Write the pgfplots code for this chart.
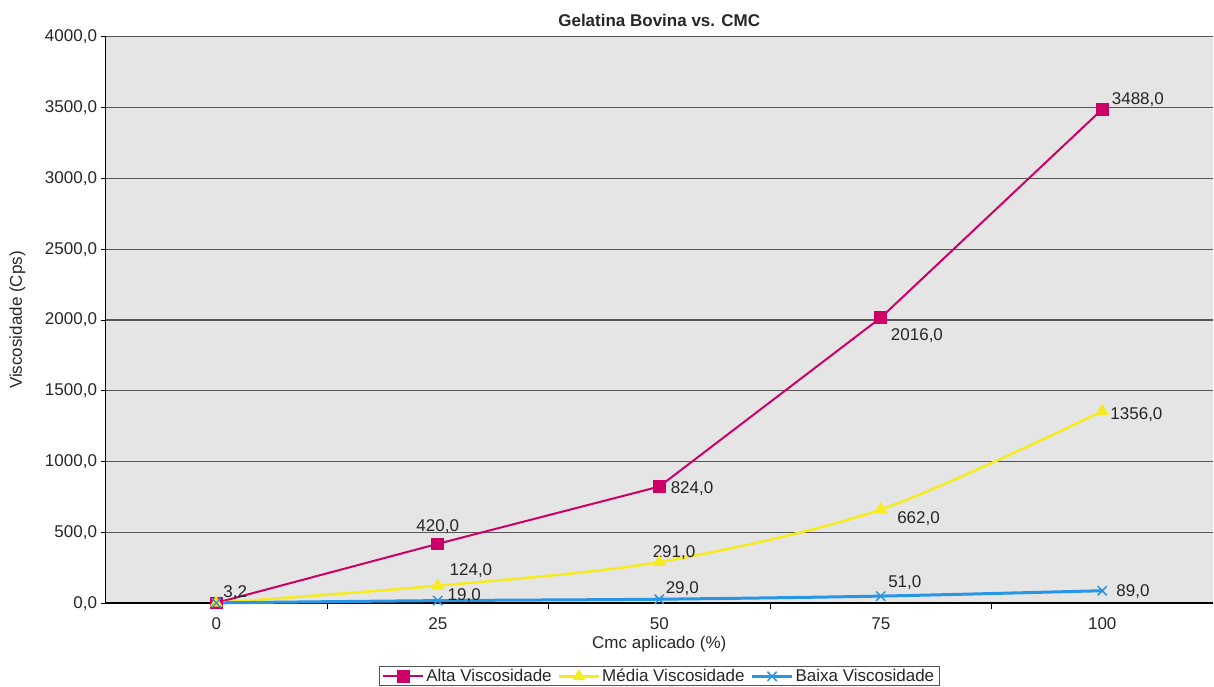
\documentclass[border=0pt]{standalone}
\usepackage{fontspec}
\setmainfont{Liberation Sans}
\usepackage{pgfplots}
\pgfplotsset{compat=1.18}
\definecolor{alta}{RGB}{204,0,102}
\definecolor{media}{RGB}{245,235,30}
\definecolor{baixa}{RGB}{40,150,230}
\definecolor{bg}{RGB}{229,229,229}
\definecolor{grd}{RGB}{85,85,85}
\newcommand{\fs}{\fontsize{17bp}{20bp}\selectfont}
\tikzset{lbl/.style={inner sep=0pt, font=\fs, text=black!85}}
\begin{document}
\begin{tikzpicture}
\begin{axis}[
  name=ax,
  scale only axis, width=1107.5bp, height=566.6bp,
  xmin=-0.5, xmax=4.5, ymin=0, ymax=4000,
  clip=false,
  axis background/.style={fill=bg},
  axis x line*=bottom, axis y line*=left,
  axis line style={black, line width=1.8bp},
  xtick={0,1,2,3,4}, xticklabels={0,25,50,75,100},
  major x tick style={draw=none},
  minor xtick={0.5,1.5,2.5,3.5},
  minor x tick style={black, line width=1bp},
  minor tick length=6bp,
  ytick={0,500,...,4000},
  y tick style={black, line width=1bp},
  tick align=outside, major tick length=5bp,
  ymajorgrids, major grid style={grd, line width=1.2bp},
  tick label style={font=\fs, text=black!85},
  yticklabel style={/pgf/number format/.cd, fixed, fixed zerofill, precision=1, use comma, 1000 sep={}, assume math mode=true},
  xticklabel style={yshift=-6bp},
  title={Gelatina Bovina vs. CMC},
  title style={at={(0.5,1)}, anchor=base, yshift=4bp, font=\bfseries\fs, text=black!85},
  xlabel={Cmc aplicado (\%)},
  ylabel={Viscosidade (Cps)},
  every axis x label/.style={at={(axis description cs:0.5,0)}, anchor=center, yshift=-41bp, font=\fs, text=black!85},
  every axis y label/.style={at={(axis description cs:0,0.5)}, rotate=90, anchor=center, yshift=88bp, font=\fs, text=black!85},
  legend style={at={(0.5,-0.1112)}, anchor=north, legend columns=-1, draw=grd, line width=1bp, fill=white,
    font=\fs, text=black!85, inner xsep=3bp, inner ysep=0.5bp,
    /tikz/every even column/.append style={column sep=4bp}},
  legend image code/.code={\draw[mark repeat=2,mark phase=2] plot coordinates {(0bp,0bp)(20bp,0bp)(40bp,0bp)};},
]
\addplot[alta, line width=2bp, mark=square*, mark size=5.3bp, mark options={solid}]
  coordinates {(0,3.2)(1,420)(2,824)(3,2016)(4,3488)};
\addlegendentry{Alta Viscosidade}
\addplot[media, line width=2.5bp, smooth, mark=triangle*, mark size=5bp, mark options={solid}]
  coordinates {(0,3.2)(1,124)(2,291)(3,662)(4,1356)};
\addlegendentry{Média Viscosidade}
\addplot[baixa, line width=3bp, smooth, mark=x, mark size=6.5bp, mark options={solid, line width=1.5bp}]
  coordinates {(0,3.2)(1,19)(2,29)(3,51)(4,89)};
\addlegendentry{Baixa Viscosidade}
% data labels
\node[lbl, anchor=base west, xshift=7bp, yshift=5bp] at (axis cs:0,3.2) {3,2};
\node[lbl, anchor=base, yshift=12bp] at (axis cs:1,420) {420,0};
\node[lbl, anchor=base west, xshift=11.3bp, yshift=-6.7bp] at (axis cs:2,824) {824,0};
\node[lbl, anchor=base west, xshift=10bp, yshift=-22.7bp] at (axis cs:3,2016) {2016,0};
\node[lbl, anchor=base west, xshift=9.4bp, yshift=5bp] at (axis cs:4,3488) {3488,0};
\node[lbl, anchor=base west, xshift=11.7bp, yshift=10.7bp] at (axis cs:1,124) {124,0};
\node[lbl, anchor=base west, xshift=-6.7bp, yshift=5bp] at (axis cs:2,291) {291,0};
\node[lbl, anchor=base west, xshift=16.3bp, yshift=-13.5bp] at (axis cs:3,662) {662,0};
\node[lbl, anchor=base west, xshift=8bp, yshift=-7.8bp] at (axis cs:4,1356) {1356,0};
\node[lbl, anchor=base west, xshift=9.7bp, yshift=0.6bp] at (axis cs:1,19) {19,0};
\node[lbl, anchor=base west, xshift=6.3bp, yshift=6.2bp] at (axis cs:2,29) {29,0};
\node[lbl, anchor=base west, xshift=7.3bp, yshift=8.1bp] at (axis cs:3,51) {51,0};
\node[lbl, anchor=base west, xshift=14bp, yshift=-5.3bp] at (axis cs:4,89) {89,0};
\end{axis}
\pgfresetboundingbox
\path[use as bounding box] ([xshift=-105.5bp,yshift=-83bp]ax.south west) rectangle ([xshift=1bp,yshift=36.7bp]ax.north east);
\end{tikzpicture}
\end{document}
